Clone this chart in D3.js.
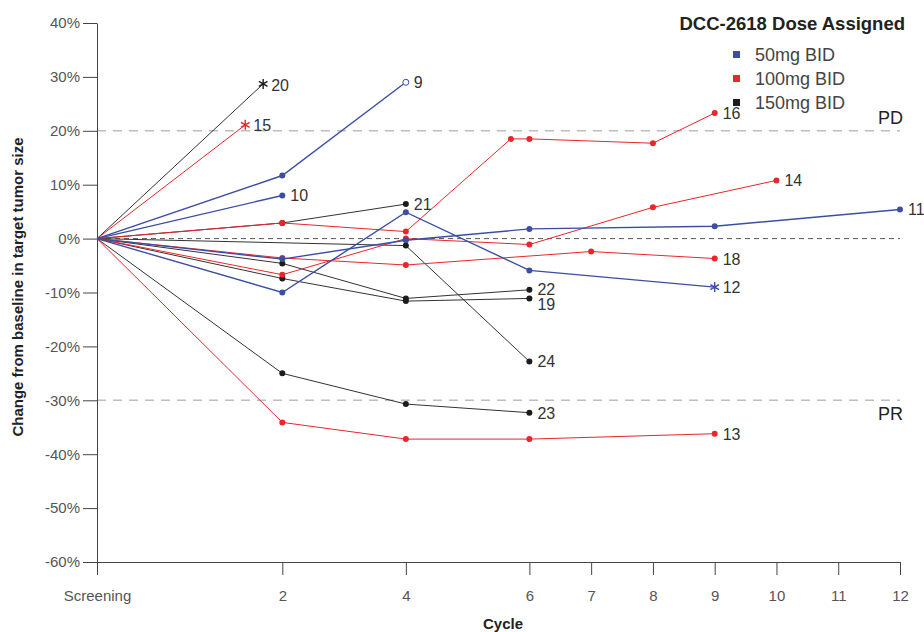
<!DOCTYPE html>
<html>
<head>
<meta charset="utf-8">
<script src="https://cdn.jsdelivr.net/npm/d3@7"></script>
<style>
  body { margin: 0; background: #fff; }
  svg { font-family: "Liberation Sans", Arial, sans-serif; }
  .axis text { fill: #555; font-size: 15px; }
  .axis path, .axis line { stroke: #444; }
  .pt-label { fill: #333; font-size: 16px; }
</style>
</head>
<body>
<div id="chart"></div>
<script>
// x ticks (screening sits one cycle before cycle 0 on the scale)
const xTicks = [-1, 2, 4, 6, 7, 8, 9, 10, 11, 12];
const xTickLabels = ['Screening', '2', '4', '6', '7', '8', '9', '10', '11', '12'];
const yTicks = [-60, -50, -40, -30, -20, -10, 0, 10, 20, 30, 40];

const doses = ['50mg BID', '100mg BID', '150mg BID'];
const doseColors = ['#3b4ea3', '#e8262c', '#1c1c1c'];

// one entry per patient
const patientIds = [9, 10, 11, 12, 13, 14, 15, 16, 18, 19, 20, 21, 22, 23, 24];
const patientDose = [0, 0, 0, 0, 1, 1, 1, 1, 1, 2, 2, 2, 2, 2, 2];
const patientCycles = [
  [-1, 2, 4],
  [-1, 2],
  [-1, 2, 4, 6, 9, 12],
  [-1, 2, 4, 6, 9],
  [-1, 2, 4, 6, 9],
  [-1, 2, 4, 6, 8, 10],
  [-1, 1.4],
  [-1, 2, 4, 5.7, 6, 8, 9],
  [-1, 2, 4, 7, 9],
  [-1, 2, 4, 6],
  [-1, 1.69],
  [-1, 2, 4],
  [-1, 2, 4, 6],
  [-1, 2, 4, 6],
  [-1, 4, 6],
];
const patientChange = [
  [0, 11.7, 29.0],
  [0, 8.0],
  [0, -3.8, -0.3, 1.8, 2.3, 5.4],
  [0, -10.0, 4.9, -5.9, -9.0],
  [0, -34.1, -37.2, -37.2, -36.2],
  [0, -6.7, 0.0, -1.1, 5.8, 10.8],
  [0, 21.1],
  [0, 2.9, 1.3, 18.5, 18.5, 17.7, 23.3],
  [0, -3.6, -4.9, -2.4, -3.7],
  [0, -7.4, -11.6, -11.1],
  [0, 28.7],
  [0, 2.9, 6.4],
  [0, -4.6, -11.1, -9.5],
  [0, -25.0, -30.7, -32.3],
  [0, -1.3, -22.8],
];
// how the last visit is marked
const endMarker = ['open', 'dot', 'dot', 'star', 'dot', 'dot', 'star', 'dot', 'dot', 'dot', 'star', 'dot', 'dot', 'dot', 'dot'];

const refLines = [{ v: 20, label: 'PD' }, { v: -30, label: 'PR' }];

const width = 924;
const height = 632;

const x = d3.scaleLinear().domain([-1, 12]).range([97, 900]);
const y = d3.scaleLinear().domain([-60, 40]).range([562, 23]);

const svg = d3.select('#chart').append('svg')
  .attr('width', width)
  .attr('height', height);

// reference lines
svg.selectAll('.ref')
  .data(refLines)
  .enter()
  .append('line')
  .attr('x1', x(-1))
  .attr('x2', x(12))
  .attr('y1', d => y(d.v))
  .attr('y2', d => y(d.v))
  .attr('stroke', '#bdbdbd')
  .attr('stroke-width', 1.5)
  .style('stroke-dasharray', '9, 7');

svg.selectAll('.ref-label')
  .data(refLines)
  .enter()
  .append('text')
  .attr('x', 878)
  .attr('y', d => (d.v > 0 ? y(d.v) - 7 : y(d.v) + 20))
  .attr('fill', '#222')
  .style('font-size', '18px')
  .text(d => d.label);

svg.append('line')
  .attr('x1', x(-1))
  .attr('x2', x(12))
  .attr('y1', y(0))
  .attr('y2', y(0))
  .attr('stroke', '#555')
  .attr('stroke-width', 1)
  .style('stroke-dasharray', '5, 4');

// axes
svg.append('g')
  .attr('class', 'axis')
  .attr('transform', `translate(${x(-1)},0)`)
  .call(d3.axisLeft(y).tickValues(yTicks).tickFormat(d => `${d}%`).tickSize(14).tickSizeOuter(0).tickPadding(3));

svg.append('g')
  .attr('class', 'axis')
  .attr('transform', `translate(0,${y(-60)})`)
  .call(d3.axisBottom(x).tickValues(xTicks).tickFormat((d, i) => xTickLabels[i]).tickSize(13).tickSizeOuter(0).tickPadding(15));

svg.append('text')
  .attr('x', 503)
  .attr('y', 629)
  .attr('text-anchor', 'middle')
  .attr('fill', '#222')
  .style('font-size', '15px')
  .style('font-weight', 'bold')
  .text('Cycle');

svg.append('text')
  .attr('transform', 'translate(23,287) rotate(-90)')
  .attr('text-anchor', 'middle')
  .attr('fill', '#222')
  .style('font-size', '15px')
  .style('font-weight', 'bold')
  .text('Change from baseline in target tumor size');

// patient lines
const line = d3.line()
  .x(d => x(d[0]))
  .y(d => y(d[1]));

const patients = patientIds.map((id, i) => ({
  id,
  color: doseColors[patientDose[i]],
  end: endMarker[i],
  pts: patientCycles[i].map((c, j) => [c, patientChange[i][j]]),
}));

// draw 150mg first, then 100mg, then 50mg on top
const drawOrder = patients.slice().sort((a, b) => doseColors.indexOf(b.color) - doseColors.indexOf(a.color));

const g = svg.selectAll('.patient')
  .data(drawOrder)
  .enter()
  .append('g')
  .attr('class', 'patient');

g.append('path')
  .attr('d', d => line(d.pts))
  .attr('fill', 'none')
  .attr('stroke', d => (d.color === doseColors[2] ? '#333' : d.color))
  .attr('stroke-width', d => (d.color === doseColors[0] ? 1.4 : 1));

g.each(function (d) {
  const sel = d3.select(this);
  d.pts.forEach((p, j) => {
    if (j === 0) return;
    const last = j === d.pts.length - 1;
    if (last && d.end === 'star') {
      sel.append('path')
        .attr('transform', `translate(${x(p[0])},${y(p[1])})`)
        .attr('d', d3.symbol(d3.symbolAsterisk, 70)())
        .attr('fill', 'none')
        .attr('stroke', d.color)
        .attr('stroke-width', 1.4);
    } else if (last && d.end === 'open') {
      sel.append('circle')
        .attr('cx', x(p[0]))
        .attr('cy', y(p[1]))
        .attr('r', 3)
        .attr('fill', '#fff')
        .attr('stroke', d.color)
        .attr('stroke-width', 1);
    } else {
      sel.append('circle')
        .attr('cx', x(p[0]))
        .attr('cy', y(p[1]))
        .attr('r', 3)
        .attr('fill', d.color);
    }
  });
});

// patient number labels, a few nudged apart
const labelNudge = { 19: 6, 22: -1, 20: 1 };
svg.selectAll('.pt-label')
  .data(patients)
  .enter()
  .append('text')
  .attr('class', 'pt-label')
  .attr('x', d => x(d.pts[d.pts.length - 1][0]) + 8)
  .attr('y', d => y(d.pts[d.pts.length - 1][1]) + 6 + (labelNudge[d.id] || 0))
  .text(d => d.id);

// legend
svg.append('text')
  .attr('x', 905)
  .attr('y', 30)
  .attr('text-anchor', 'end')
  .attr('fill', '#222')
  .style('font-size', '18.5px')
  .style('font-weight', 'bold')
  .text('DCC-2618 Dose Assigned');

const legend = svg.selectAll('.legend')
  .data(doses)
  .enter()
  .append('g')
  .attr('transform', (d, i) => `translate(733,${55 + i * 24})`);

legend.append('rect')
  .attr('x', 0)
  .attr('y', -4)
  .attr('width', 7)
  .attr('height', 7)
  .attr('fill', (d, i) => doseColors[i]);

legend.append('text')
  .attr('x', 22)
  .attr('y', 6)
  .attr('fill', '#444')
  .style('font-size', '18px')
  .text(d => d);
</script>
</body>
</html>
